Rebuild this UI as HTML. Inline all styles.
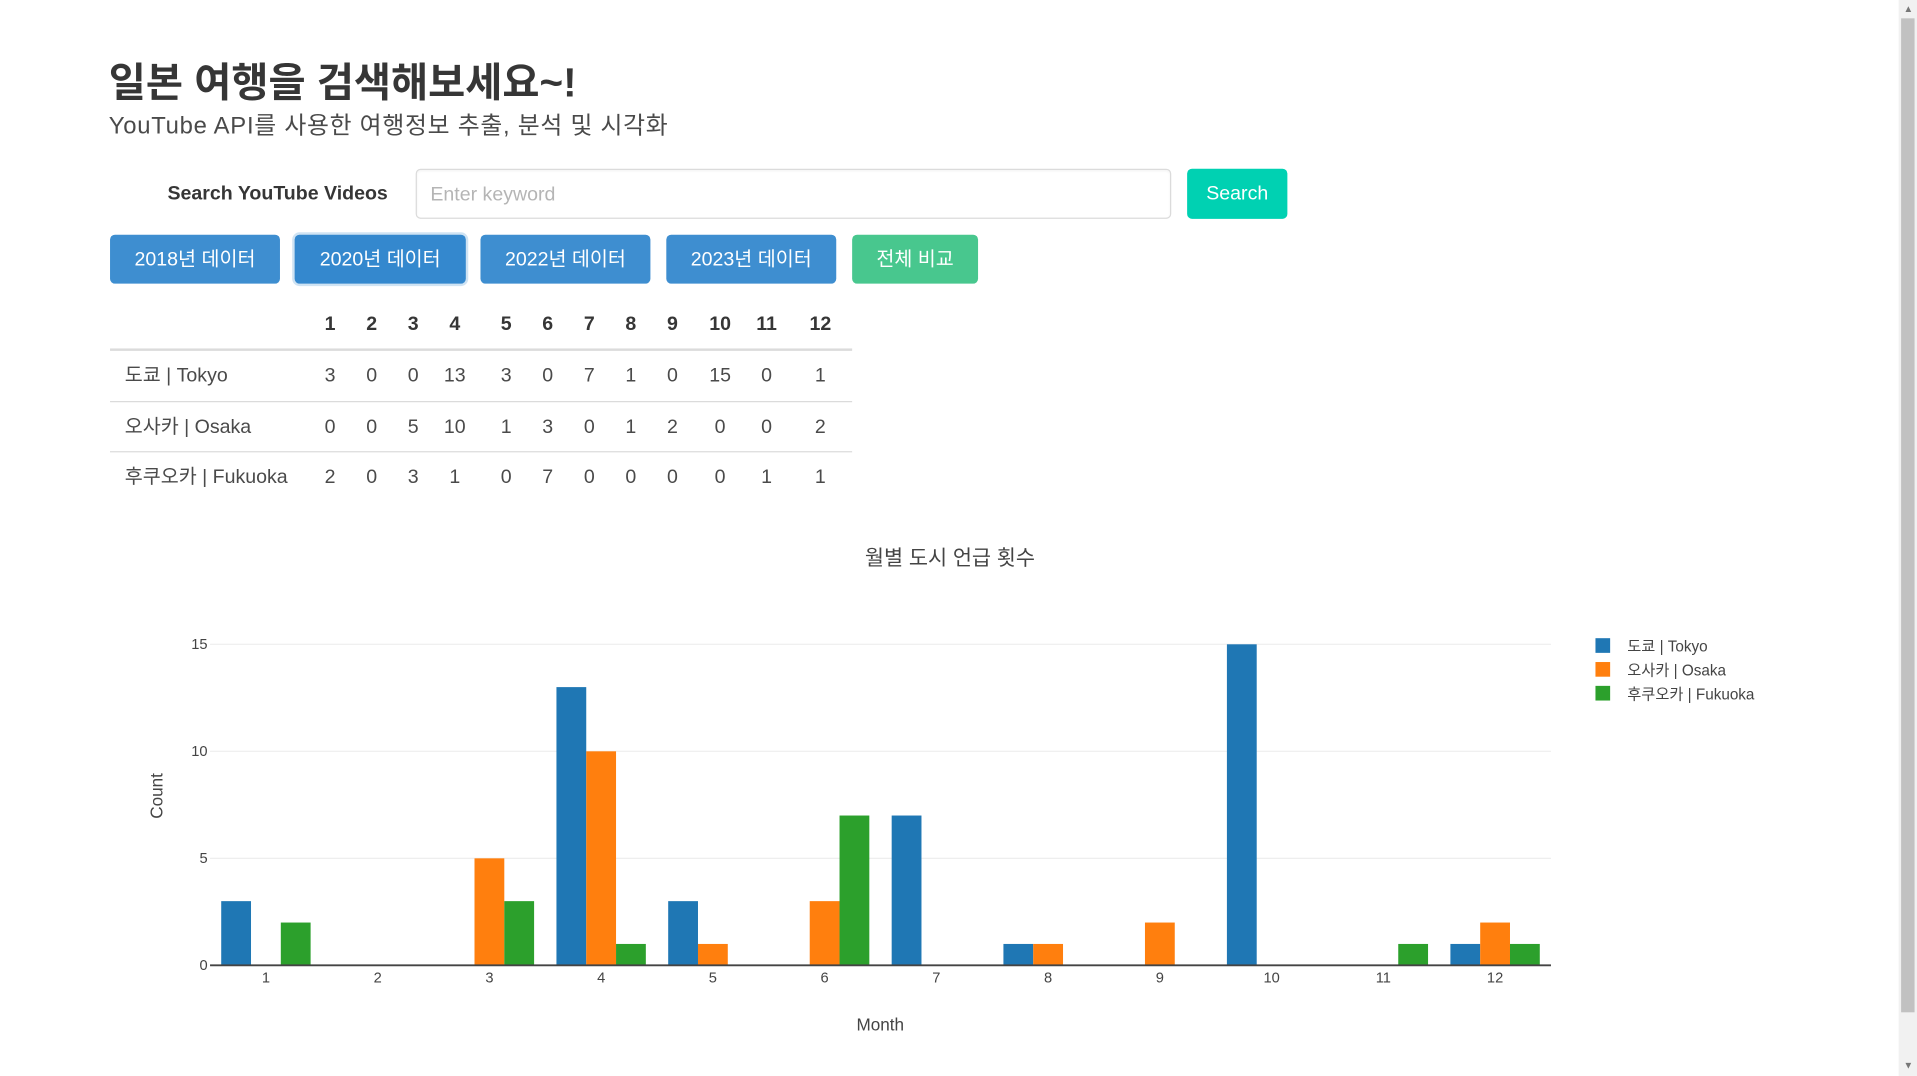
<!DOCTYPE html>
<html><head><meta charset="utf-8">
<style>
html,body{margin:0;padding:0;width:1917px;height:1076px;overflow:hidden;background:#fff;}
#wrap{position:absolute;left:0;top:0;width:1568px;height:880px;transform:scale(1.22258);transform-origin:0 0;font-family:"Liberation Sans","Noto Sans CJK KR",sans-serif;color:#4a4a4a;}
.abs{position:absolute;}
.btn{position:absolute;top:192px;height:40px;border-radius:4px;color:#fff;font-size:16px;line-height:42px;text-align:center;background:#3e8ed0;}
</style></head><body>
<div id="wrap">
<div class="abs" style="left:1553px;top:0;width:15px;height:880px;background:#f1f1f1;">
  <div style="position:absolute;left:2px;top:15px;width:11px;height:813px;background:#c1c1c1;"></div>
  <div style="position:absolute;left:4px;top:3px;font-size:8px;color:#777;">▲</div>
  <div style="position:absolute;left:4px;top:867px;font-size:8px;color:#777;">▼</div>
</div>
<div class="abs" style="left:89px;top:46px;font-size:33px;line-height:44px;font-weight:bold;color:#363636;">일본 여행을 검색해보세요~!</div>
<div class="abs" style="left:89px;top:91px;font-size:19.5px;line-height:24px;letter-spacing:0.6px;color:#4a4a4a;">YouTube API를 사용한 여행정보 추출, 분석 및 시각화</div>
<div class="abs" style="left:137px;top:148px;font-size:16px;line-height:22px;font-weight:bold;color:#363636;">Search YouTube Videos</div>
<div class="abs" style="left:340px;top:138px;width:616px;height:39px;border:1px solid #dbdbdb;border-radius:4px;box-shadow:inset 0 1px 2px rgba(10,10,10,.05);"><span style="position:absolute;left:11px;top:11px;font-size:16px;line-height:20px;color:#b5b5b5;">Enter keyword</span></div>
<div class="abs" style="left:971px;top:138px;width:82px;height:41px;background:#00d1b2;border-radius:4px;color:#fff;font-size:16px;line-height:42px;text-align:center;">Search</div>
<div class="btn" style="left:90px;width:139px;">2018년 데이터</div>
<div class="btn" style="left:241px;width:140px;background:#3488ce;box-shadow:0 0 0 2px rgba(62,142,208,.25);">2020년 데이터</div>
<div class="btn" style="left:393px;width:139px;">2022년 데이터</div>
<div class="btn" style="left:545px;width:139px;">2023년 데이터</div>
<div class="btn" style="left:697px;width:103px;background:#48c78e;">전체 비교</div>

<div class="abs" style="left:90px;top:244px;width:607px;height:170px;font-size:16px;">
  <div style="position:absolute;left:0;top:41px;width:607px;height:2px;background:#dbdbdb;"></div>
  <div style="position:absolute;left:0;top:84px;width:607px;height:1px;background:#dbdbdb;"></div>
  <div style="position:absolute;left:0;top:125px;width:607px;height:1px;background:#dbdbdb;"></div>
  <div id="tbl"></div>
</div>

<svg class="abs" style="left:0;top:430px;" width="1553" height="450" id="chart"></svg>
</div>
<script>
const months=["1","2","3","4","5","6","7","8","9","10","11","12"];
const tokyo=[3,0,0,13,3,0,7,1,0,15,0,1];
const osaka=[0,0,5,10,1,3,0,1,2,0,0,2];
const fukuoka=[2,0,3,1,0,7,0,0,0,0,1,1];
const seriesNames=["도쿄 | Tokyo","오사카 | Osaka","후쿠오카 | Fukuoka"];
const colors=["#1f77b4","#ff7f0e","#2ca02c"];
const yTicks=[0,5,10,15];

const tbl=document.getElementById('tbl');
const colX=[180,214,248,282,324,358,392,426,460,499,537,581];
const rowY=[22,64,106,147];
const series=[tokyo,osaka,fukuoka];
function mk(parent,txt,x,y,bold,name,anchorLeft){
  const d=document.createElement('div');
  d.textContent=txt;
  d.style.cssText='position:absolute;line-height:20px;top:'+(y-10)+'px;'+(anchorLeft?'left:'+x+'px;white-space:nowrap;':'left:'+(x-20)+'px;width:40px;text-align:center;')+(bold?'font-weight:bold;color:#363636;':'color:#4a4a4a;');
  
  
  parent.appendChild(d);
}
months.forEach((m,i)=>mk(tbl,m,colX[i],rowY[0],true,'header-month-'+m,false));
series.forEach((s,r)=>{
  mk(tbl,seriesNames[r],12,rowY[r+1],false,'row-label-'+r,true);
  s.forEach((v,i)=>mk(tbl,String(v),colX[i],rowY[r+1],false,'cell-'+r+'-'+months[i],false));
});

const svg=document.getElementById('chart');
const NS='http://www.w3.org/2000/svg';
const oy=430;
const x0=171.8,x1=1268.6,yBase=789.6-oy,yTop=527-oy,yMax=15;
const band=(x1-x0)/months.length;
const bw=band*0.8/3;
const X=i=>x0+band*(i+0.5);
const Y=v=>yBase-(yBase-yTop)*v/yMax;
function el(tag,attrs,txt){const e=document.createElementNS(NS,tag);for(const k in attrs)e.setAttribute(k,attrs[k]);if(txt!==undefined)e.textContent=txt;svg.appendChild(e);return e;}
const F='"Liberation Sans","Noto Sans CJK KR",sans-serif';
let t=el('text',{x:777,y:32,'text-anchor':'middle','font-size':17,fill:'#444','font-family':F},'월별 도시 언급 횟수');


yTicks.forEach(v=>{
  if(v>0){const g=el('line',{x1:x0,x2:x1,y1:Y(v),y2:Y(v),stroke:'#eeeeee','stroke-width':1});
  
  }
  const l=el('text',{x:x0-2,y:Y(v)+4,'text-anchor':'end','font-size':12,fill:'#444','font-family':F},String(v));
  
  
});
series.forEach((s,si)=>{
  s.forEach((v,i)=>{
    if(v<=0)return;
    const r=el('rect',{x:X(i)-band*0.4+si*bw,y:Y(v),width:bw,height:yBase-Y(v),fill:colors[si]});
    
    
  });
});
const ax=el('line',{x1:x0,x2:x1,y1:yBase,y2:yBase,stroke:'#444','stroke-width':1.5});


months.forEach((m,i)=>{
  const l=el('text',{x:X(i),y:yBase+14,'text-anchor':'middle','font-size':12,fill:'#444','font-family':F},m);
  
  
});
t=el('text',{x:720,y:413,'text-anchor':'middle','font-size':14,fill:'#444','font-family':F},'Month');


t=el('text',{x:0,y:0,'text-anchor':'middle','font-size':14,fill:'#444','font-family':F,transform:'translate(133,221) rotate(-90)'},'Count');


seriesNames.forEach((n,i)=>{
  const r=el('rect',{x:1305,y:92+i*19.5,width:12,height:12,fill:colors[i]});
  
  
  const l=el('text',{x:1331,y:103+i*19.5,'font-size':12.5,fill:'#444','font-family':F},n);
  
  
});
</script>
</body></html>
